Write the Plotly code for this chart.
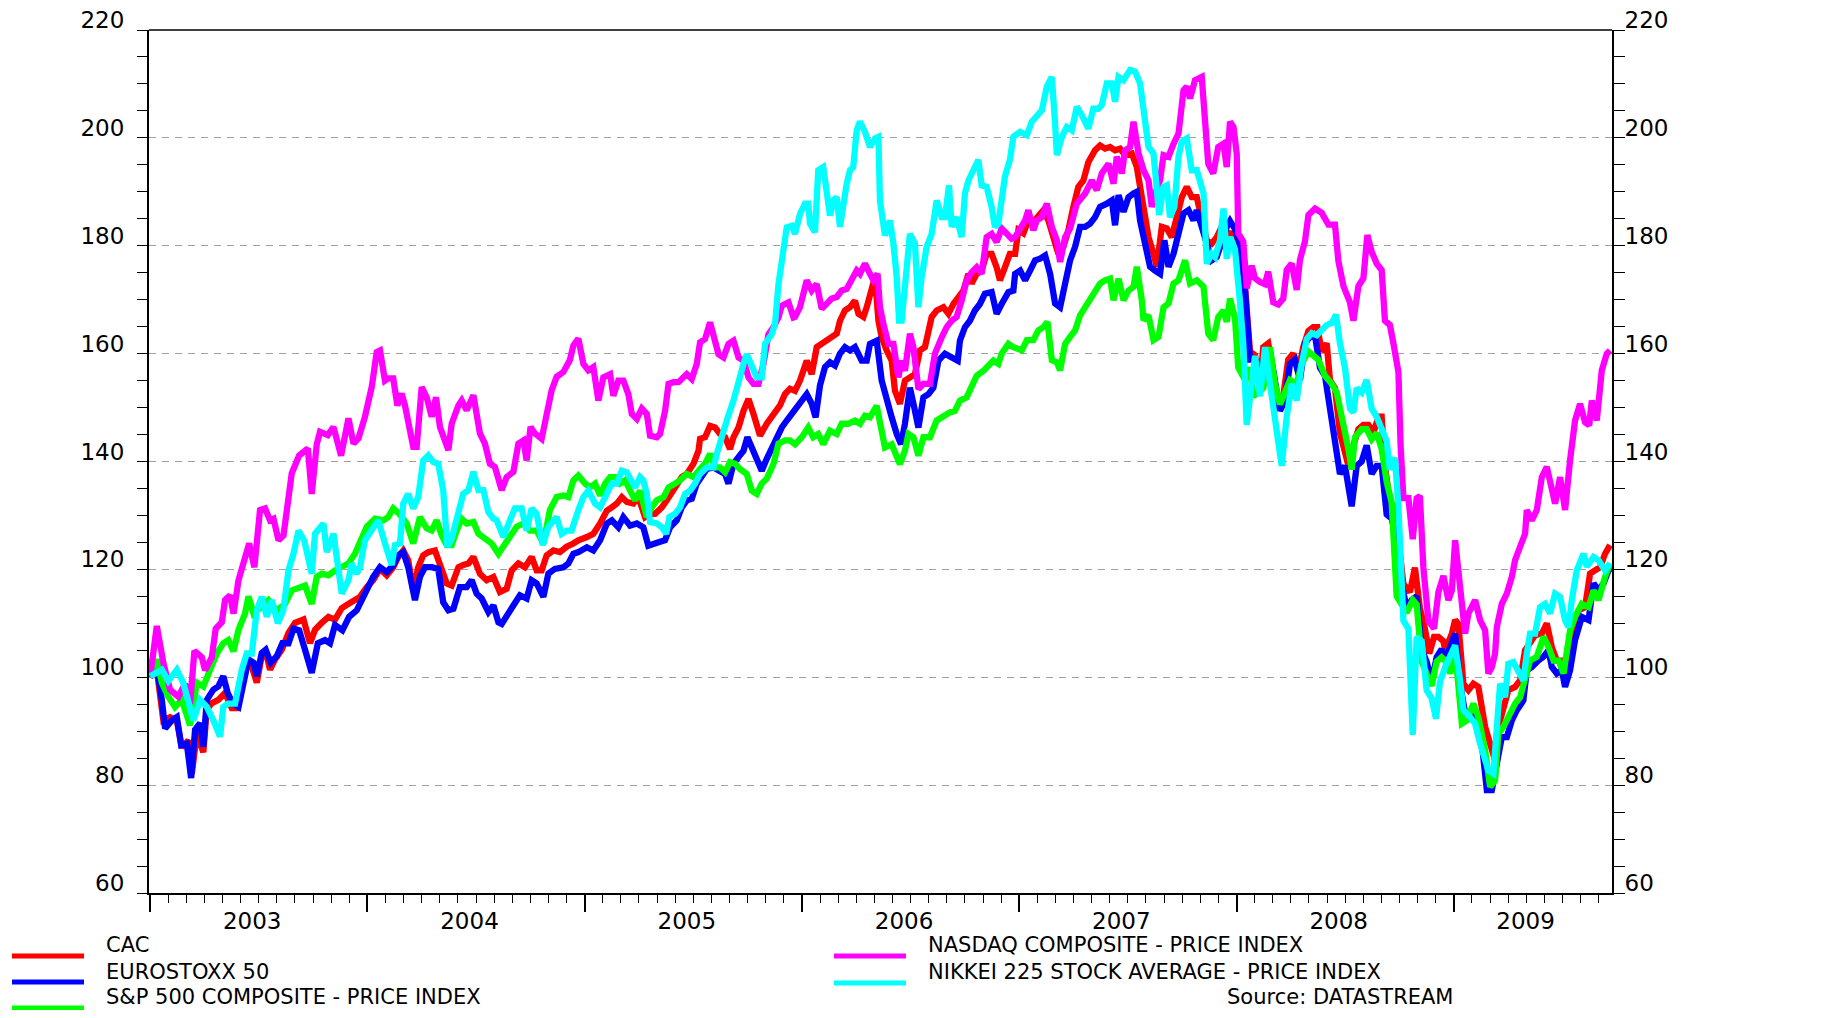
import plotly.graph_objects as go

# ---------------- data (decimal years, index values) ----------------
cac_t = [2003.000,2003.031,2003.061,2003.092,2003.123,2003.146,2003.176,2003.192,2003.215,2003.245,2003.261,2003.284,2003.314,2003.345,2003.376,2003.399,2003.422,2003.445,2003.468,2003.491,2003.514,2003.537,2003.552,2003.575,2003.606,2003.637,2003.667,2003.706,2003.736,2003.759,2003.790,2003.821,2003.851,2003.882,2003.913,2003.943,
         2003.966,2003.997,2004.027,2004.058,2004.089,2004.119,2004.142,2004.165,2004.188,2004.211,2004.234,2004.257,2004.280,2004.311,2004.334,2004.365,2004.388,2004.419,2004.441,2004.465,2004.488,2004.518,2004.549,2004.580,2004.610,2004.641,2004.664,2004.695,2004.725,2004.756,2004.779,2004.802,2004.825,2004.856,2004.886,2004.917,2004.948,2004.971,
         2005.010,2005.040,2005.071,2005.102,2005.125,2005.148,2005.171,2005.194,2005.224,2005.247,2005.278,2005.301,2005.324,2005.355,2005.378,2005.401,2005.424,2005.447,2005.470,2005.501,2005.524,2005.531,2005.554,2005.577,2005.600,2005.623,2005.646,2005.669,2005.685,2005.708,2005.731,2005.754,2005.777,2005.807,2005.838,2005.869,2005.899,2005.922,2005.945,
         2005.968,2005.991,2006.022,2006.045,2006.068,2006.091,2006.114,2006.137,2006.160,2006.175,2006.198,2006.221,2006.244,2006.260,2006.283,2006.298,2006.313,2006.336,2006.352,2006.367,2006.390,2006.413,2006.428,2006.451,2006.474,2006.497,2006.520,2006.543,2006.566,2006.597,2006.620,2006.651,2006.674,2006.697,2006.720,2006.743,2006.766,2006.781,2006.804,2006.827,2006.850,2006.873,2006.896,2006.911,2006.934,2006.957,
         2006.981,2006.996,2007.019,2007.042,2007.065,2007.088,2007.111,2007.134,2007.157,2007.180,2007.203,2007.226,2007.249,2007.272,2007.295,2007.318,2007.349,2007.372,2007.395,2007.418,2007.441,2007.464,2007.487,2007.518,2007.541,2007.556,2007.572,2007.595,2007.618,2007.633,2007.656,2007.679,2007.702,2007.725,2007.748,2007.771,2007.794,2007.817,2007.840,2007.863,2007.886,2007.909,2007.932,2007.963,
         2007.993,2008.016,2008.039,2008.062,2008.085,2008.108,2008.123,2008.146,2008.169,2008.192,2008.215,2008.238,2008.261,2008.284,2008.307,2008.331,2008.353,2008.372,2008.392,2008.415,2008.430,2008.453,2008.476,2008.499,2008.515,2008.538,2008.561,2008.584,2008.607,2008.630,2008.653,2008.668,2008.683,2008.706,2008.722,2008.745,2008.768,2008.798,2008.821,2008.844,2008.867,2008.887,2008.909,2008.929,2008.952,
         2008.960,2008.991,2009.006,2009.021,2009.044,2009.067,2009.090,2009.113,2009.144,2009.167,2009.190,2009.205,2009.228,2009.251,2009.282,2009.305,2009.328,2009.351,2009.374,2009.405,2009.428,2009.451,2009.474,2009.497,2009.520,2009.543,2009.574,2009.604,2009.627,2009.650,2009.673,2009.696,2009.719]
cac_v = [100,101.4,92,92.6,92,87,88.3,82.1,89.5,86.1,94,95.2,95.8,97.1,94.3,94.3,98.3,102.7,102,99,104,104,101.4,103.3,105.1,108.2,110.1,110.7,106.3,108.8,110.1,111.2,110.7,112.8,113.6,114.3,
         114.9,116.7,118,120.1,118.9,120.4,122.3,123.5,121.7,116.1,120.4,122.6,123.2,123.5,121.1,117.4,117,120.4,120.8,121.1,122.3,119.2,118,118.6,115.8,116.4,119.8,121.1,120.4,122.3,119.8,119.8,122.6,123.5,123.2,124.2,124.8,125.4,
         126,126.6,128.5,130.9,131.5,132.2,133.4,132.5,132.2,133.4,129.7,130.3,130.3,131.5,132.8,134.3,135.9,137.1,137.7,139.6,142,144.2,144.5,146.6,146.3,145.1,144.5,142.3,144.5,146.3,149.4,151.6,148.8,144.8,147,148.8,150.4,152.5,153.5,
         153.1,155,158.7,156.2,161.2,161.8,162.7,163.3,163.7,166.1,168,168.6,169.8,167.4,166.8,168.6,170.5,174.2,166.1,163,160.6,158.7,153.1,150.7,155,155.6,156.2,160.6,161.2,166.8,168,168.6,167.4,169.2,170.5,171.7,174.8,173,174.8,175.4,178.5,178.5,176,173.6,176,178.5,
         178.5,182.9,182.3,184.7,184.4,185.3,186.6,184.7,181,178.5,179.8,182.9,187.2,190.9,192.1,195.5,197.7,198.6,198,198.3,197.7,198,196.8,197.1,194.6,190.9,187.2,181.6,178.5,176.1,183.5,183.2,181.6,185.9,189,190.9,189,189,185.3,181,180.4,181.6,183.5,182.3,
         182.3,180.1,172.5,160.4,159.7,154.4,161.2,161.9,156.6,149.8,152.1,158.9,160,156.6,161.2,164.2,164.9,164.9,160.4,161.9,155.1,153.6,145.3,141.5,139.2,143,146,146.8,146.8,145.3,148.3,148.3,139.2,132.4,131.7,125.6,117.3,115.8,120.3,112.8,109,104.4,107.5,107.5,106.7,
         105,108.1,110.6,109.9,98.8,97.6,98.8,98.2,90.8,87.7,84.6,90.8,93.9,97.6,98.2,99.4,105,106.2,107.8,108.1,110,105.6,103.1,103.1,101.9,108.1,112.4,113,119.2,119.8,120.4,122.9,124.5]

euro_t = [2003.000,2003.031,2003.054,2003.069,2003.100,2003.123,2003.143,2003.169,2003.189,2003.207,2003.230,2003.245,2003.261,2003.291,2003.314,2003.337,2003.357,2003.379,2003.407,2003.430,2003.453,2003.476,2003.491,2003.514,2003.532,2003.555,2003.583,2003.609,2003.637,2003.660,2003.686,2003.713,2003.744,2003.772,2003.805,2003.828,2003.851,2003.885,2003.916,2003.951,
          2003.966,2003.997,2004.027,2004.058,2004.089,2004.119,2004.142,2004.165,2004.188,2004.219,2004.242,2004.265,2004.296,2004.326,2004.349,2004.373,2004.396,2004.426,2004.457,2004.480,2004.503,2004.526,2004.557,2004.580,2004.603,2004.618,2004.641,2004.672,2004.702,2004.733,2004.756,2004.779,2004.810,2004.833,2004.863,2004.902,2004.925,2004.948,2004.971,
          2005.010,2005.040,2005.071,2005.102,2005.125,2005.155,2005.178,2005.209,2005.240,2005.270,2005.293,2005.316,2005.347,2005.370,2005.393,2005.424,2005.447,2005.470,2005.493,2005.516,2005.539,2005.562,2005.593,2005.623,2005.646,2005.662,2005.685,2005.708,2005.731,2005.749,2005.769,2005.792,2005.815,2005.838,2005.861,2005.884,2005.907,2005.930,2005.961,
          2005.991,2006.022,2006.045,2006.063,2006.083,2006.106,2006.129,2006.152,2006.175,2006.198,2006.221,2006.244,2006.275,2006.298,2006.313,2006.344,2006.367,2006.390,2006.413,2006.436,2006.456,2006.474,2006.497,2006.517,2006.536,2006.559,2006.582,2006.605,2006.628,2006.658,2006.689,2006.717,2006.727,2006.750,2006.773,2006.796,2006.819,2006.842,2006.873,2006.896,2006.919,2006.950,2006.973,
          2006.981,2007.004,2007.027,2007.050,2007.073,2007.096,2007.119,2007.142,2007.165,2007.188,2007.211,2007.234,2007.257,2007.280,2007.303,2007.326,2007.349,2007.372,2007.403,2007.426,2007.441,2007.457,2007.480,2007.503,2007.526,2007.541,2007.556,2007.572,2007.587,2007.602,2007.625,2007.648,2007.668,2007.687,2007.710,2007.733,2007.756,2007.779,2007.802,2007.817,2007.840,2007.863,2007.886,2007.909,2007.932,2007.955,
          2007.970,2007.993,2008.016,2008.039,2008.062,2008.085,2008.108,2008.131,2008.154,2008.177,2008.200,2008.223,2008.246,2008.269,2008.292,2008.315,2008.338,2008.361,2008.384,2008.407,2008.430,2008.453,2008.476,2008.499,2008.530,2008.553,2008.576,2008.599,2008.622,2008.645,2008.668,2008.691,2008.714,2008.737,2008.760,2008.783,2008.806,2008.829,2008.852,2008.875,2008.898,2008.921,2008.944,
          2008.960,2008.991,2009.006,2009.029,2009.052,2009.075,2009.106,2009.129,2009.152,2009.175,2009.198,2009.221,2009.244,2009.267,2009.290,2009.320,2009.336,2009.359,2009.389,2009.413,2009.436,2009.451,2009.474,2009.497,2009.512,2009.535,2009.558,2009.589,2009.620,2009.643,2009.666,2009.689,2009.712,2009.727]
euro_v = [100,102,95.8,90.5,92,92.6,87.4,87.7,81.3,90.3,91.5,87.1,95.8,97.7,98.3,100.2,97.1,95.2,94.5,98.3,103.3,102.7,100.2,104.5,105.1,102.7,103.9,106.3,106.3,109,108.7,105.1,100.8,106.3,106.9,106.3,109.7,108.7,111.2,112.4,
          113.6,116.7,118.6,120.4,119.5,120.8,122.6,123.2,120.4,114.3,118.6,120.4,120.4,120.1,113.9,112.4,112.7,116.7,116.7,118,115.5,114.6,112.1,113.3,110.2,109.9,111.5,113.6,115.2,114.6,118,117.4,114.9,119.2,120.1,120.4,121.1,122.9,123.2,
          124.1,123.5,125.4,128.5,129.1,127.8,129.7,128.1,128.5,127.8,124.4,124.8,125.1,125.4,127.8,129.1,131.5,132.8,133.1,135.9,137.1,138.6,138.9,138.3,137.7,135.9,139.6,140.8,142,144.5,142.6,140.2,138.3,140.5,142.6,144.5,146.3,147.6,149.1,
          150.7,152.5,150.7,148.2,154.1,157.5,158.4,157.8,160,161.2,160.6,161.2,158.7,158.7,161.8,162.4,155,151.3,148.2,145.1,143.2,147,153.7,150,146.3,151.9,152.5,153.7,158.7,160,159.3,158.7,162.4,164.9,166.1,168,169.2,171.1,171.4,167.4,169.2,171.4,171.7,
          174.8,175.4,173.6,175.4,177.3,177.6,178.2,174.8,169.3,168.6,172.4,177.3,179.8,183.5,183.5,184.1,185.3,187.2,187.8,188.4,183.8,189.4,186.3,189,189.7,190,184.7,181.6,178.5,176.1,175.4,174.8,181,176.1,178.5,182.3,186,186.6,184.7,186.6,183.5,179.8,177.3,177.9,181,183.5,
          184.6,183.1,180.1,171.8,158.9,158.9,153.6,160.4,160.4,154.4,149.4,151.3,158.1,158.9,155.1,161.9,163.1,163.4,157.4,155.9,149.8,143,137.7,139.2,131.7,139.2,140,143,137.7,139.2,139.2,130.2,129.4,125.6,117.3,112.8,114.3,115,105.2,102.9,99.1,103.7,105.2,
          103.1,106.9,108.1,98.8,93.3,93.3,91.4,87.7,79.1,79.1,83.4,88.9,88.9,92,93.9,95.7,101.3,101.9,103.1,103.8,105,101.9,100.7,101.3,98.2,101.3,106.9,111.2,110.6,117.4,116.1,117.4,119.8,120.4]

sp_t = [2003.000,2003.031,2003.054,2003.084,2003.115,2003.146,2003.184,2003.215,2003.245,2003.276,2003.307,2003.337,2003.360,2003.384,2003.407,2003.437,2003.453,2003.476,2003.506,2003.545,2003.583,2003.621,2003.652,2003.683,2003.713,2003.744,2003.767,2003.790,2003.821,2003.851,2003.882,2003.913,2003.943,
        2003.966,2003.997,2004.035,2004.073,2004.096,2004.119,2004.147,2004.181,2004.211,2004.242,2004.273,2004.296,2004.319,2004.342,2004.365,2004.388,2004.411,2004.434,2004.457,2004.488,2004.511,2004.541,2004.572,2004.603,2004.626,2004.656,2004.687,2004.718,2004.748,2004.779,2004.810,2004.840,2004.871,2004.902,2004.925,2004.948,2004.971,
        2005.002,2005.025,2005.048,2005.071,2005.094,2005.117,2005.140,2005.163,2005.186,2005.209,2005.232,2005.255,2005.286,2005.309,2005.332,2005.363,2005.386,2005.416,2005.439,2005.470,2005.501,2005.524,2005.554,2005.577,2005.600,2005.623,2005.646,2005.669,2005.692,2005.715,2005.746,2005.769,2005.792,2005.815,2005.838,2005.869,2005.892,2005.922,2005.945,
        2005.968,2005.999,2006.029,2006.052,2006.075,2006.098,2006.129,2006.160,2006.183,2006.213,2006.244,2006.267,2006.290,2006.313,2006.344,2006.367,2006.382,2006.413,2006.436,2006.451,2006.474,2006.490,2006.513,2006.536,2006.559,2006.589,2006.620,2006.651,2006.681,2006.704,2006.727,2006.758,2006.781,2006.804,2006.835,2006.858,2006.881,2006.904,2006.919,2006.950,2006.973,
        2007.012,2007.035,2007.065,2007.088,2007.111,2007.130,2007.150,2007.173,2007.188,2007.211,2007.234,2007.257,2007.280,2007.303,2007.326,2007.349,2007.372,2007.395,2007.418,2007.434,2007.457,2007.480,2007.503,2007.526,2007.541,2007.564,2007.572,2007.595,2007.618,2007.641,2007.664,2007.687,2007.710,2007.733,2007.763,2007.786,2007.817,2007.848,2007.870,2007.893,2007.916,2007.940,2007.955,
        2007.970,2007.993,2008.008,2008.039,2008.062,2008.077,2008.100,2008.123,2008.154,2008.177,2008.200,2008.223,2008.246,2008.277,2008.300,2008.331,2008.353,2008.376,2008.407,2008.438,2008.461,2008.492,2008.515,2008.530,2008.545,2008.576,2008.599,2008.622,2008.645,2008.668,2008.691,2008.714,2008.737,2008.760,2008.783,2008.811,2008.829,2008.852,2008.875,2008.898,2008.921,2008.944,
        2008.960,2008.983,2009.006,2009.037,2009.060,2009.090,2009.113,2009.144,2009.167,2009.190,2009.205,2009.228,2009.251,2009.282,2009.305,2009.328,2009.351,2009.382,2009.413,2009.436,2009.459,2009.482,2009.505,2009.535,2009.558,2009.589,2009.620,2009.643,2009.666,2009.696,2009.719]
sp_v = [100,103.3,99,96.4,94.5,95.8,91.1,99,98.3,101.4,104.4,106.3,106.9,104.8,108.8,111.8,115,111.8,113,114.3,112.4,113.6,116.1,116.7,117,113.6,118.6,119.2,118.9,119.8,120.5,121.1,122.9,
        124.8,127.9,129.4,129.1,129.7,131.3,130.3,128.5,124.8,129.7,127.6,127.2,129.1,126.3,124.5,124.5,127.2,129.4,128.5,128.8,126.6,125.7,124.8,122.9,124.2,125.7,127.9,128.5,127.2,127.2,124.8,131,133.4,133.7,133.4,136.5,137.4,
        135.9,135.2,135.9,133.7,135.9,137.1,137.1,135.9,136.5,134.6,132.8,134.6,129.7,131.5,132.8,133.4,135.2,135.9,136.5,137.7,137.1,138.3,139.6,141.4,138.9,138.9,138,139.9,139.6,138.6,137.7,134.6,134,135.9,136.8,139.6,143.3,143.9,143.9,
        143.2,144.5,146.3,144.5,145.1,143.2,145.7,145.1,147,147,147.6,147,148.5,148.2,150.3,145.7,142.6,143.2,140.4,139.5,142,145.1,144.5,141.1,144.5,144.5,147.6,148.5,149.1,149.4,151.3,151.9,153.7,155.9,156.8,157.8,158.7,158.1,160,161.8,161.2,
        160.6,162.5,162.5,164.3,164.9,165.9,158.8,158.4,156.9,161.8,163.1,164.3,167.1,168.6,169.6,171.1,173,173.6,173.9,169.9,173.9,169.9,171.7,172.4,176.1,169.9,166.2,167.1,162.5,163.1,168.6,169.3,173,173.6,177.3,173,173.6,172.4,163.7,162.5,166.8,168,165.9,
        170.2,166.5,157.4,155.1,157.4,152.1,152.8,153.6,161.2,154.4,150.6,152.8,155.1,154.4,158.1,160.4,159.6,158.9,155.9,154.4,152.8,147.5,142.3,138.5,144.5,146,146,144.1,145.3,142.3,136.2,132.4,115,113.5,112,114.3,113.5,102.9,100.6,98.4,102.9,103.7,
        103.1,100.7,105,91.4,92,95.1,92.6,86.5,79.7,80.9,89.5,90.8,92.6,95.1,96.3,99.4,103.1,103.8,107.5,105.6,103.1,103.1,100.7,108.7,111.2,113.6,113,116.1,114.3,118.6,121.1]

nasdaq_t = [2003.000,2003.031,2003.061,2003.092,2003.130,2003.161,2003.184,2003.204,2003.238,2003.253,2003.284,2003.302,2003.330,2003.345,2003.368,2003.384,2003.407,2003.437,2003.456,2003.480,2003.506,2003.529,2003.552,2003.568,2003.591,2003.614,2003.629,2003.652,2003.686,2003.726,2003.744,2003.767,2003.782,2003.818,2003.844,2003.879,2003.913,2003.936,2003.959,
            2003.989,2004.020,2004.043,2004.058,2004.081,2004.096,2004.119,2004.138,2004.158,2004.173,2004.211,2004.227,2004.250,2004.273,2004.296,2004.316,2004.334,2004.373,2004.388,2004.419,2004.434,2004.457,2004.488,2004.518,2004.541,2004.564,2004.587,2004.618,2004.641,2004.672,2004.695,2004.718,2004.733,2004.751,2004.771,2004.802,2004.825,2004.848,2004.871,2004.902,2004.932,2004.948,2004.971,
            2004.994,2005.017,2005.040,2005.063,2005.086,2005.117,2005.132,2005.155,2005.178,2005.201,2005.217,2005.240,2005.263,2005.286,2005.301,2005.332,2005.347,2005.370,2005.386,2005.409,2005.432,2005.455,2005.470,2005.493,2005.516,2005.531,2005.554,2005.577,2005.593,2005.616,2005.639,2005.662,2005.685,2005.708,2005.731,2005.754,2005.777,2005.800,2005.823,2005.846,2005.869,2005.892,2005.907,2005.938,2005.961,
            2005.968,2005.991,2006.022,2006.045,2006.068,2006.091,2006.114,2006.137,2006.160,2006.183,2006.206,2006.229,2006.252,2006.267,2006.290,2006.313,2006.329,2006.348,2006.359,2006.375,2006.398,2006.421,2006.444,2006.459,2006.474,2006.497,2006.513,2006.536,2006.559,2006.589,2006.612,2006.643,2006.666,2006.689,2006.712,2006.735,2006.758,2006.781,2006.804,2006.827,2006.850,2006.873,2006.896,2006.919,2006.942,2006.965,
            2006.981,2007.004,2007.027,2007.042,2007.065,2007.081,2007.104,2007.127,2007.150,2007.173,2007.188,2007.211,2007.234,2007.265,2007.303,2007.334,2007.357,2007.380,2007.411,2007.434,2007.449,2007.472,2007.487,2007.510,2007.526,2007.549,2007.572,2007.595,2007.610,2007.625,2007.648,2007.664,2007.687,2007.710,2007.733,2007.756,2007.771,2007.786,2007.809,2007.840,2007.855,2007.870,2007.893,2007.916,2007.940,2007.955,2007.970,2007.986,2008.001,
            2008.008,2008.031,2008.047,2008.070,2008.085,2008.108,2008.131,2008.146,2008.169,2008.192,2008.215,2008.231,2008.254,2008.277,2008.292,2008.315,2008.331,2008.361,2008.392,2008.423,2008.453,2008.469,2008.492,2008.522,2008.538,2008.561,2008.584,2008.602,2008.622,2008.645,2008.668,2008.683,2008.706,2008.722,2008.745,2008.755,2008.768,2008.791,2008.811,2008.829,2008.844,2008.860,2008.883,2008.909,2008.929,2008.952,
            2008.975,2008.991,2009.006,2009.029,2009.052,2009.067,2009.098,2009.121,2009.144,2009.159,2009.175,2009.190,2009.198,2009.221,2009.244,2009.267,2009.282,2009.305,2009.328,2009.336,2009.359,2009.382,2009.405,2009.428,2009.451,2009.466,2009.489,2009.512,2009.535,2009.558,2009.581,2009.604,2009.623,2009.635,2009.658,2009.681,2009.704,2009.719]
nasdaq_v = [100,109.5,102.7,97.7,96.4,98.8,95.1,104.9,103.7,101.3,103.7,109,110.2,114.3,115.2,111.8,118,122,124.8,120.4,131,131.3,129.1,129.4,125.4,126.3,131.9,137.8,141.1,142.4,134,143.2,145.5,144.9,146.4,141.1,148,143.3,144.3,
            148.3,153.8,160.3,160.6,155,155.4,155.4,150.4,152.6,150.4,142.7,142.7,153.8,151.9,148.3,151.9,146.4,142.1,147,150.4,151.3,149.5,152.3,145.2,143.3,139.6,139,134.7,137.1,138.1,143.3,143.9,140.2,146.4,145.2,144.2,148.3,153.2,155.7,156.6,158.8,161.5,162.8,
            158.1,156.9,157.5,151.3,155.6,156.2,152.2,155,155,152.5,148.8,147.9,149.8,148.8,144.8,144.5,145.1,149.4,154.4,154.7,154.7,155.6,156.2,155.3,158.1,162.1,162.7,165.8,163.3,159.9,159.3,161.8,162.4,159.3,158.7,155.6,154.4,154.4,158.1,163.6,164.9,166.7,168.9,169.5,166.7,
            166.8,168.6,173.6,171.7,172.9,168.3,169.2,170.2,170.5,171.7,172,173.6,175.4,174.8,176.7,174.8,173.6,174.8,168.6,165.5,161.8,161.8,155.6,158.7,156.8,163.7,161.2,153.4,154.4,154.4,160,163,164.9,166.1,166.8,169.8,173.6,175.1,176,174.8,181.6,182.2,180.7,183.2,182.2,181.3,
            181.6,182.9,184.7,186.6,182.9,184.7,185.3,187.8,183.5,181,177,181.6,183.2,187.8,189.7,192.1,190.3,193.4,195.2,191.5,196.5,193.4,197.7,198.3,203,197.1,194,192.1,187.2,189.7,192.1,196.8,196.5,198.9,200.8,208.8,209.5,207.3,210.7,211.3,204.5,195.2,193.4,198.3,198.9,194.6,203,202,197.1,
            182.3,180.8,172.1,176.3,174,173.3,172.9,175.2,169.5,169.1,170.2,175.5,176.7,171.8,177.4,180.8,185.7,186.9,186.1,183.9,183.9,177.1,172.5,169.5,166.1,172.5,174,182,178.9,176.7,175.5,166.1,165.3,161.9,156.6,143,133.2,133.2,125.6,133.2,133.6,120.3,110.5,109,115.8,118.8,
            114.3,116.1,125.4,116.7,108.1,111.8,114.3,110.6,108.7,100.7,101.9,104.4,109.3,113.6,115.5,118.6,121.7,124.2,126.6,131,129.1,131,137.1,139,134.7,132.2,137.1,131,140.2,147.6,150.7,147.3,146.7,151.3,147.6,156.9,160,160.6]

nikkei_t = [2003.000,2003.054,2003.084,2003.123,2003.153,2003.176,2003.199,2003.230,2003.261,2003.291,2003.322,2003.337,2003.360,2003.391,2003.422,2003.445,2003.468,2003.491,2003.514,2003.537,2003.560,2003.588,2003.613,2003.637,2003.660,2003.683,2003.710,2003.744,2003.759,2003.798,2003.813,2003.844,2003.882,2003.913,2003.928,2003.951,
            2003.966,2003.989,2004.020,2004.050,2004.081,2004.112,2004.127,2004.150,2004.165,2004.188,2004.211,2004.234,2004.257,2004.280,2004.303,2004.326,2004.349,2004.368,2004.388,2004.419,2004.441,2004.465,2004.488,2004.511,2004.534,2004.557,2004.580,2004.595,2004.626,2004.656,2004.679,2004.710,2004.733,2004.756,2004.779,2004.807,2004.833,2004.871,2004.894,2004.917,2004.940,2004.971,
            2004.994,2005.017,2005.048,2005.071,2005.102,2005.125,2005.148,2005.171,2005.194,2005.217,2005.232,2005.255,2005.270,2005.286,2005.301,2005.332,2005.355,2005.375,2005.390,2005.416,2005.439,2005.462,2005.485,2005.508,2005.531,2005.562,2005.593,2005.608,2005.631,2005.654,2005.685,2005.708,2005.731,2005.746,2005.769,2005.792,2005.815,2005.830,2005.861,2005.876,2005.892,2005.907,2005.930,2005.953,
            2005.968,2005.991,2006.014,2006.029,2006.037,2006.060,2006.075,2006.098,2006.114,2006.129,2006.144,2006.160,2006.175,2006.190,2006.206,2006.221,2006.236,2006.252,2006.267,2006.290,2006.313,2006.336,2006.352,2006.359,2006.375,2006.382,2006.405,2006.421,2006.436,2006.447,2006.459,2006.474,2006.497,2006.520,2006.536,2006.551,2006.574,2006.597,2006.620,2006.643,2006.658,2006.677,2006.689,2006.712,2006.735,2006.750,2006.766,2006.796,2006.812,2006.827,2006.850,2006.873,2006.888,2006.904,2006.919,2006.934,2006.957,2006.973,
            2007.004,2007.035,2007.058,2007.081,2007.104,2007.127,2007.150,2007.165,2007.173,2007.196,2007.219,2007.242,2007.265,2007.288,2007.318,2007.341,2007.364,2007.380,2007.403,2007.426,2007.441,2007.457,2007.480,2007.510,2007.533,2007.556,2007.572,2007.595,2007.618,2007.633,2007.644,2007.664,2007.679,2007.694,2007.714,2007.733,2007.748,2007.771,2007.794,2007.817,2007.832,2007.848,2007.863,2007.886,2007.901,2007.924,2007.940,2007.955,
            2007.970,2007.993,2008.016,2008.031,2008.047,2008.070,2008.085,2008.108,2008.131,2008.154,2008.185,2008.208,2008.231,2008.254,2008.277,2008.300,2008.323,2008.346,2008.369,2008.392,2008.415,2008.438,2008.458,2008.476,2008.499,2008.522,2008.538,2008.553,2008.576,2008.599,2008.622,2008.645,2008.668,2008.691,2008.706,2008.729,2008.745,2008.768,2008.791,2008.811,2008.829,2008.852,2008.875,2008.898,2008.918,2008.936,
            2008.960,2008.983,2009.006,2009.029,2009.044,2009.075,2009.098,2009.121,2009.144,2009.159,2009.182,2009.198,2009.213,2009.236,2009.251,2009.274,2009.297,2009.320,2009.336,2009.351,2009.374,2009.397,2009.420,2009.443,2009.466,2009.489,2009.512,2009.528,2009.543,2009.566,2009.597,2009.612,2009.643,2009.666,2009.696,2009.719]
nikkei_v = [100.2,101.4,99.3,101.4,98.9,95.8,92,95.8,94.5,92,89,94.5,95.1,95.1,101.4,104.4,104.4,112.4,114.9,111.2,114.3,110,112.4,119.8,122.9,127.2,125.3,119.2,126.6,128.5,123.2,126.6,115.5,118,121.1,119.2,
            120.4,125.4,127.2,129.1,124.8,120.8,124.5,124.8,132.2,134,131.3,133.4,140.2,141.1,139.9,139.6,134.7,124.2,125.7,131,134,134.7,138.1,134.7,134.7,130.6,129.4,129.1,126,129.1,131.3,131.3,127.2,131.3,130.3,124.5,127.9,129.7,126.6,127.2,127.2,131,
            133.4,134.6,132.2,131.5,134,135.9,135.9,138.3,138,136.5,135.2,137.1,136.5,134,128.8,128.5,127.8,126.6,129.7,130.3,131.5,134,134.6,135.9,137.7,138.9,138.9,141.4,145.1,147.6,151.3,155,158.1,159.9,157.5,155.6,155.6,161.8,163.6,165.5,172.9,177.8,183.4,183.7,
            182.2,185.9,187.8,187.8,184.1,182.5,194,194.6,189.7,185.6,188.4,189,183.5,187.8,191.5,194,194.6,201.4,203,201.1,198.3,199.9,200.2,188.4,184.7,181.9,184.7,180.4,174.2,166.1,166.1,173.6,182.2,180.4,168.6,174.2,179.8,182.2,188.4,185.3,185.3,191.2,183.5,185.3,181.6,189.7,192.1,194.6,195.9,191.2,190.9,187.2,183.5,184.1,187.8,192.8,195.9,200.2,
            201.1,200.5,203,203.9,205.1,209.5,211.3,202.7,196.8,200.2,202,201.4,205.8,204.2,201.7,205.4,205.4,206.1,210.1,210.1,206.7,211.3,210.7,212.6,212.3,210.1,205.1,198.3,197.1,190.3,185.7,190.9,191.2,185.3,187.2,196.5,199.3,199.9,194,194,191.5,189.7,176.7,178.5,177.9,181,186.9,177.6,
            181.6,179.3,169.5,161.9,146.8,154.4,159.6,152.1,161.2,154.4,145.3,139.2,148.3,154.4,151.3,158.1,162.7,163.8,163.4,164.2,165.3,165.7,167.2,161.9,157.4,149.8,149.1,153.6,152.8,155.1,149.8,148.3,146,143.8,138.5,140.7,131.7,110.5,109,89.3,107.5,106.7,97.6,96.1,92.3,99.1,
            101.9,103.8,105.9,99.4,93.9,92.6,91.4,87.7,84,82.7,82.1,91.4,98.8,96.3,102.5,102.8,101.3,99.4,104.4,108.1,108.1,113,113.6,111.8,115.5,114.9,110.6,109.3,114.3,119.8,122.9,120.5,122.3,121.7,119.8,121.1]

series_names = ["CAC", "EUROSTOXX 50", "S&P 500 COMPOSITE - PRICE INDEX",
                "NASDAQ COMPOSITE - PRICE INDEX", "NIKKEI 225 STOCK AVERAGE - PRICE INDEX"]
series_colors = ["#FF0000", "#0000FF", "#00FF00", "#FF00FF", "#00FFFF"]
year_labels = ["2003", "2004", "2005", "2006", "2007", "2008", "2009"]
y_ticks = [60, 80, 100, 120, 140, 160, 180, 200, 220]
source_text = "Source: DATASTREAM"

# ---------------- geometry (page pixels; the page body has an 8px margin) ----------------
PAGE_W, PAGE_H, BODY = 1821, 1018, 8
W, H = PAGE_W - 2 * BODY, PAGE_H - 2 * BODY
L, R, T, B = 149, 1612, 30, 893          # plot area in page pixels
X0, X1 = 2002.995, 2009.728
FONT = "DejaVu Sans"


def px(x):
    return (x - L) / (R - L)


def py(y):
    return (B - y) / (B - T)


fig = go.Figure()
data = [(cac_t, cac_v), (euro_t, euro_v), (sp_t, sp_v), (nasdaq_t, nasdaq_v), (nikkei_t, nikkei_v)]
for (t, v), name, col in zip(data, series_names, series_colors):
    fig.add_trace(go.Scatter(x=t, y=v, mode="lines", name=name,
                             line=dict(color=col, width=6.3), showlegend=False,
                             hoverinfo="skip"))

# dummy trace binding secondary axes (year labels + right value axis)
fig.add_trace(go.Scatter(x=[X0], y=[60], xaxis="x2", yaxis="y2", mode="lines",
                         showlegend=False, hoverinfo="skip", line=dict(color="rgba(0,0,0,0)")))

tickfont = dict(family=FONT, size=23, color="black")

fig.update_layout(
    width=W, height=H,
    margin=dict(l=L - BODY, r=W - (R - BODY), t=T - BODY, b=H - (B - BODY), pad=0,
                autoexpand=False),
    paper_bgcolor="white", plot_bgcolor="white",
    showlegend=False,
    xaxis=dict(range=[X0, X1], showgrid=False, zeroline=False, automargin=False,
               showline=True, linecolor="black", linewidth=2, mirror=False,
               tickmode="array", tickvals=[2003, 2004, 2005, 2006, 2007, 2008, 2009],
               ticks="outside", ticklen=17, tickwidth=1.5, tickcolor="black",
               showticklabels=False,
               minor=dict(tickmode="linear", tick0=2003, dtick=1 / 12, ticks="outside",
                          ticklen=8, tickwidth=1.2, tickcolor="black", showgrid=False)),
    xaxis2=dict(range=[X0, X1], overlaying="x", side="bottom", anchor="y",
                showgrid=False, zeroline=False, showline=False, automargin=False,
                tickmode="array",
                tickvals=[2003.47, 2004.47, 2005.47, 2006.47, 2007.47, 2008.47, 2009.33],
                ticktext=year_labels, ticks="outside", ticklen=7,
                tickcolor="rgba(0,0,0,0)", tickfont=tickfont),
    yaxis=dict(range=[60, 220], zeroline=False, automargin=False,
               showline=True, linecolor="black", linewidth=2,
               tickmode="array", tickvals=y_ticks, ticks="outside", ticklen=10,
               tickwidth=1.2, tickcolor="black", tickfont=tickfont,
               ticklabelshift=-10, ticklabelstandoff=8, ticklabeloverflow="allow",
               showgrid=True, gridcolor="#A0A0A0", gridwidth=1, griddash="7px,6px",
               minor=dict(tickmode="linear", tick0=60, dtick=5, ticks="outside",
                          ticklen=10, tickwidth=1.2, tickcolor="black", showgrid=False)),
    yaxis2=dict(range=[60, 220], overlaying="y", side="right", anchor="x",
                zeroline=False, showgrid=False, automargin=False,
                showline=True, linecolor="black", linewidth=2,
                tickmode="array", tickvals=y_ticks, ticks="outside", ticklen=11,
                tickwidth=1.2, tickcolor="black", tickfont=tickfont,
                ticklabelshift=-10, ticklabelstandoff=-5, ticklabeloverflow="allow",
                minor=dict(tickmode="linear", tick0=60, dtick=5, ticks="outside",
                           ticklen=11, tickwidth=1.2, tickcolor="black", showgrid=False)),
)

# top border of the plot frame
fig.add_shape(type="line", xref="paper", yref="paper", x0=0, x1=1, y0=1, y1=1,
              line=dict(color="black", width=1.5), layer="above")

# legend drawn by hand: sample lines + labels (page pixel positions)
legend_rows = [
    (0, 12, 84, 956, 104, 945),
    (1, 12, 84, 982, 104, 972),
    (2, 12, 84, 1008, 104, 997),
    (3, 834, 906, 956, 926, 945),
    (4, 834, 906, 983, 926, 972),
]
for idx, lx0, lx1, ly, tx, ty in legend_rows:
    fig.add_shape(type="line", xref="paper", yref="paper",
                  x0=px(lx0), x1=px(lx1), y0=py(ly), y1=py(ly),
                  line=dict(color=series_colors[idx], width=5))
    fig.add_annotation(xref="paper", yref="paper", x=px(tx), y=py(ty),
                       xanchor="left", yanchor="middle", showarrow=False,
                       text=series_names[idx], font=dict(family=FONT, size=21, color="black"))

fig.add_annotation(xref="paper", yref="paper", x=px(1225), y=py(997),
                   xanchor="left", yanchor="middle", showarrow=False,
                   text=source_text, font=dict(family=FONT, size=21, color="black"))

fig.write_html("out.html")
